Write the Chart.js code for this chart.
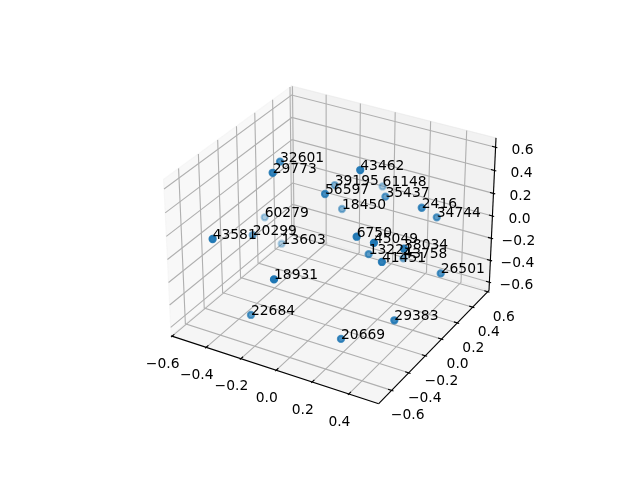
<!DOCTYPE html>
<html>
<head>
<meta charset="utf-8">
<title>3D scatter</title>
<script src="https://cdn.jsdelivr.net/npm/chart.js@4"></script>
<style>
body { margin: 0; background: #fff; }
canvas { display: block; }
</style>
</head>
<body>
<canvas id="chart3d" width="640" height="480"></canvas>
<script>
const pointLabels = ['32601','29773','56597','39195','43462','61148','35437','18450','2416','34744','60279','20299','13603','43581','6750','45049','13221','38034','43758','41451','26501','18931','22684','20669','29383'];
const xValues = [-0.310,-0.240,-0.053,-0.194,0.129,-0.065,0.124,-0.132,0.369,0.394,-0.555,-0.457,-0.478,-0.380,0.209,0.312,0.150,0.418,0.197,0.318,0.504,-0.053,-0.275,0.189,0.415];
const yValues = [-0.088,-0.300,-0.095,0.301,-0.070,0.615,0.242,0.262,0.145,0.280,0.192,-0.125,0.235,-0.679,-0.273,-0.293,-0.007,-0.171,0.317,-0.210,0.094,-0.656,-0.496,-0.405,-0.263];
const zValues = [0.547,0.611,0.382,0.152,0.646,-0.002,0.222,-0.010,0.293,0.134,-0.224,-0.134,-0.462,0.233,0.247,0.255,-0.109,0.171,-0.344,0.038,-0.184,0.023,-0.509,-0.560,-0.387];

const xTicks = [-0.6,-0.4,-0.2,0,0.2,0.4];
const yTicks = [-0.6,-0.4,-0.2,0,0.2,0.4,0.6];
const zTicks = [-0.6,-0.4,-0.2,0,0.2,0.4,0.6];
const xLim = [-0.606,0.56];
const yLim = [-0.748,0.617];
const zLim = [-0.677,0.68];

// same camera as mplot3d: azim -60, elev 30, dist 10, box aspect 4:4:3
const aspectK = 1.8294640721620434 * 25 / 24 / Math.hypot(4, 4, 3);
const boxSize = [4 * aspectK, 4 * aspectK, 3 * aspectK];
const elev = 30 * Math.PI / 180, azim = -60 * Math.PI / 180;
const w = [Math.cos(elev) * Math.cos(azim), Math.cos(elev) * Math.sin(azim), Math.sin(elev)];
const eye = boxSize.map((b, i) => b / 2 + 10 * w[i]);
const uLen = Math.hypot(w[1], w[0]);
const u = [-w[1] / uLen, w[0] / uLen, 0];
const v = [w[1] * u[2] - w[2] * u[1], w[2] * u[0] - w[0] * u[2], w[0] * u[1] - w[1] * u[0]];
const lims = [xLim, yLim, zLim];

function project(x, y, z) {
    const p = [x, y, z].map((val, i) => (val - lims[i][0]) / (lims[i][1] - lims[i][0]) * boxSize[i] - eye[i]);
    const dot = a => a[0] * p[0] + a[1] * p[1] + a[2] * p[2];
    const s = -dot(w);
    return { x: dot(u) / s, y: dot(v) / s, depth: -10 / s };
}

const x0 = xLim[0], x1 = xLim[1];
const y0 = yLim[0], y1 = yLim[1];
const z0 = zLim[0], z1 = zLim[1];

function line3d(points, color, width) {
    return {
        type: 'scatter',
        showLine: true,
        data: points.map(p => project(p[0], p[1], p[2])),
        borderColor: color,
        borderWidth: width,
        pointRadius: 0,
        clip: false,
        order: 5
    };
}

const gridColor = '#b0b0b0', lw = 1.11;
const datasets = [];
xTicks.forEach(t => datasets.push(line3d([[t, y0, z0], [t, y1, z0], [t, y1, z1]], gridColor, lw)));
yTicks.forEach(t => datasets.push(line3d([[x1, t, z0], [x0, t, z0], [x0, t, z1]], gridColor, lw)));
zTicks.forEach(t => datasets.push(line3d([[x0, y0, t], [x0, y1, t], [x1, y1, t]], gridColor, lw)));

const dx = (xLim[1] - xLim[0]) / 12, dy = (yLim[1] - yLim[0]) / 12;
function axisLine(points) {
    const ds = line3d(points, '#000', lw);
    ds.order = 2;
    return ds;
}
datasets.push(axisLine([[x0, y0, z0], [x1, y0, z0]]));
datasets.push(axisLine([[x1, y0, z0], [x1, y1, z0]]));
datasets.push(axisLine([[x1, y1, z0], [x1, y1, z1]]));
xTicks.forEach(t => datasets.push(axisLine([[t, y0 - 0.1 * dy, z0], [t, y0 + 0.2 * dy, z0]])));
yTicks.forEach(t => datasets.push(axisLine([[x1 + 0.1 * dx, t, z0], [x1 - 0.2 * dx, t, z0]])));
zTicks.forEach(t => datasets.push(axisLine([[x1 + 0.1 * dx, y1, t], [x1 - 0.2 * dx, y1, t]])));

// depth shading: near points opaque, far ones alpha 0.3; far ones drawn first
const projected = pointLabels.map((name, i) => {
    const p = project(xValues[i], yValues[i], zValues[i]);
    p.name = name;
    return p;
});
const depths = projected.map(p => p.depth);
const minD = Math.min(...depths), maxD = Math.max(...depths);
const sorted = projected.slice().sort((a, b) => b.depth - a.depth);
const shade = sorted.map(p => `rgba(31,119,180,${(1 - (p.depth - minD) / (maxD - minD) * 0.7).toFixed(3)})`);
datasets.push({
    type: 'scatter',
    data: sorted,
    backgroundColor: shade,
    borderColor: shade,
    borderWidth: 2.08,
    pointRadius: 3.1,
    clip: false,
    order: 1
});

const panes = [
    { color: 'rgba(242,242,242,0.5)', corners: [[x0, y0, z0], [x0, y1, z0], [x0, y1, z1], [x0, y0, z1]] },
    { color: 'rgba(230,230,230,0.5)', corners: [[x0, y1, z0], [x1, y1, z0], [x1, y1, z1], [x0, y1, z1]] },
    { color: 'rgba(236,236,236,0.5)', corners: [[x0, y0, z0], [x1, y0, z0], [x1, y1, z0], [x0, y1, z0]] }
];

const panePlugin = {
    id: 'panes',
    beforeDatasetsDraw(chart) {
        const { ctx, scales } = chart;
        ctx.save();
        panes.forEach(pane => {
            ctx.beginPath();
            pane.corners.forEach((c, i) => {
                const p = project(c[0], c[1], c[2]);
                const px = scales.x.getPixelForValue(p.x), py = scales.y.getPixelForValue(p.y);
                if (i === 0) ctx.moveTo(px, py); else ctx.lineTo(px, py);
            });
            ctx.closePath();
            ctx.fillStyle = pane.color;
            ctx.fill();
            ctx.strokeStyle = pane.color;
            ctx.lineWidth = 1.11;
            ctx.stroke();
        });
        ctx.restore();
    }
};

const tickText = t => (t < 0 ? '\u2212' : '') + Math.abs(t).toFixed(1);

const textPlugin = {
    id: 'texts',
    afterDatasetsDraw(chart) {
        const { ctx, scales } = chart;
        const toPx = p => [scales.x.getPixelForValue(p.x), scales.y.getPixelForValue(p.y)];
        ctx.save();
        ctx.fillStyle = '#000';
        ctx.font = '13.89px "DejaVu Sans"';
        ctx.textAlign = 'center';
        ctx.textBaseline = 'middle';
        xTicks.forEach(t => {
            const [px, py] = toPx(project(t, y0, z0));
            ctx.fillText(tickText(t), px - 9.5, py + 28.2);
        });
        yTicks.forEach(t => {
            const [px, py] = toPx(project(x1, t, z0));
            ctx.fillText(tickText(t), px + 16, py + 25.5);
        });
        zTicks.forEach(t => {
            const [px, py] = toPx(project(x1, y1, t));
            ctx.fillText(tickText(t), px + 27, py + 3);
        });
        ctx.textAlign = 'left';
        ctx.textBaseline = 'alphabetic';
        projected.forEach(p => {
            const [px, py] = toPx(p);
            ctx.fillText(p.name, px, py);
        });
        ctx.restore();
    }
};

new Chart(document.getElementById('chart3d').getContext('2d'), {
    type: 'scatter',
    data: { datasets: datasets },
    plugins: [panePlugin, textPlugin],
    options: {
        responsive: false,
        animation: false,
        layout: { padding: { left: 143.2, right: 127.2, top: 52.8, bottom: 57.6 } },
        plugins: { legend: { display: false }, tooltip: { enabled: false } },
        scales: {
            x: { type: 'linear', min: -0.095, max: 0.09, display: false },
            y: { type: 'linear', min: -0.0927, max: 0.0923, display: false }
        }
    }
});
</script>
</body>
</html>
